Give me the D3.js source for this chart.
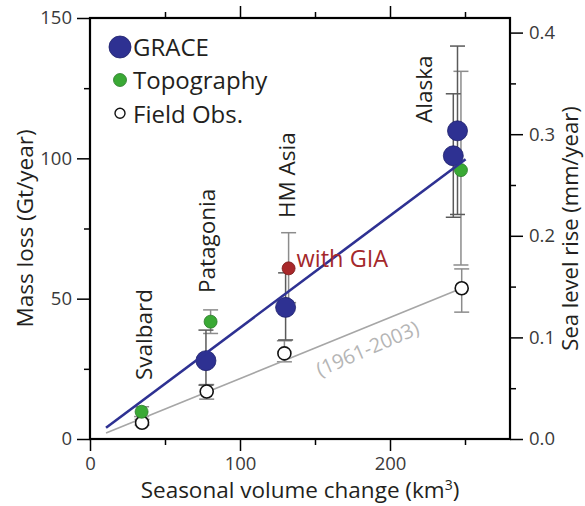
<!DOCTYPE html>
<html>
<head>
<meta charset="utf-8">
<script src="https://cdn.jsdelivr.net/npm/d3@7"></script>
<style>
  html, body { margin: 0; padding: 0; background: #fff; }
  svg text { font-family: "Open Sans", "Noto Sans", sans-serif; }
</style>
</head>
<body>
<svg id="chart" width="585" height="506"></svg>
<script>
// ---------------- data ----------------
const regions = ["Svalbard", "Patagonia", "HM Asia", "Alaska"];

// GRACE estimates: volume (km3), mass loss (Gt/yr), error range
const graceX  = [77.3, 130.4, 242.2, 245.0];
const graceY  = [27.9, 46.9, 100.9, 109.8];
const graceLo = [19.2, 35.3, 79.0, 80.0];
const graceHi = [38.8, 59.2, 123.0, 140.0];

// Topography estimates
const topoX  = [34.4, 80.4, 247.3];
const topoY  = [9.7, 41.8, 95.8];
const topoLo = [8.0, 37.6, 62.0];
const topoHi = [11.5, 46.0, 131.0];

// Field observations (1961-2003)
const fieldX  = [34.7, 77.8, 129.6, 247.8];
const fieldY  = [5.8, 16.9, 30.5, 53.7];
const fieldLo = [5.0, 14.2, 27.5, 45.2];
const fieldHi = [7.0, 19.4, 35.0, 60.6];

// HM Asia GRACE with GIA correction
const giaX  = [132.4];
const giaY  = [60.8];
const giaLo = [48.6];
const giaHi = [73.5];

// Fit lines
const graceFitX = [10.7, 250.4];
const graceFitY = [4.0, 99.7];
const fieldFitX = [10.7, 247.8];
const fieldFitY = [2.1, 53.7];

// Axis ticks
const xMajorTicks = [0, 100, 200];
const xMinorTicks = [50, 150, 250];
const yMajorTicks = [0, 50, 100, 150];
const yMinorTicks = [25, 75, 125];
const y2MajorTicks = [0.0, 0.1, 0.2, 0.3, 0.4];
const y2MinorTicks = [0.05, 0.15, 0.25, 0.35];
const gtPerMm = 362;

// ---------------- drawing ----------------
const svg = d3.select("#chart");
const L = 90, R = 510, T = 18, B = 439;
const textCol = "#231f20";

const x = d3.scaleLinear().domain([0, 280]).range([L, R]);
const y = d3.scaleLinear().domain([0, 150]).range([B, T]);
const y2 = d3.scaleLinear().domain([0, 150 / gtPerMm]).range([B, T]);

function styleAxis(g) {
  g.select(".domain").remove();
  g.selectAll(".tick line").attr("stroke", "#000").attr("stroke-width", 1.5);
  g.selectAll(".tick text").attr("fill", "#3a3a3a").style("font-size", "18.5px")
    .style("font-family", "'Open Sans', sans-serif");
}

// bottom
svg.append("g").attr("transform", `translate(0,${B})`)
  .call(d3.axisBottom(x).tickValues(xMajorTicks).tickSize(12).tickPadding(6).tickFormat(d3.format("d")))
  .call(styleAxis);
svg.append("g").attr("transform", `translate(0,${B})`)
  .call(d3.axisBottom(x).tickValues(xMinorTicks).tickSize(6).tickFormat(""))
  .call(styleAxis);
// top
svg.append("g").attr("transform", `translate(0,${T})`)
  .call(d3.axisTop(x).tickValues([100, 200]).tickSize(12).tickFormat(""))
  .call(styleAxis);
svg.append("g").attr("transform", `translate(0,${T})`)
  .call(d3.axisTop(x).tickValues(xMinorTicks).tickSize(6).tickFormat(""))
  .call(styleAxis);
// left
svg.append("g").attr("transform", `translate(${L},0)`)
  .call(d3.axisLeft(y).tickValues(yMajorTicks).tickSize(13).tickPadding(5).tickFormat(d3.format("d")))
  .call(styleAxis);
svg.append("g").attr("transform", `translate(${L},0)`)
  .call(d3.axisLeft(y).tickValues(yMinorTicks).tickSize(6).tickFormat(""))
  .call(styleAxis);
// right
svg.append("g").attr("transform", `translate(${R},0)`)
  .call(d3.axisRight(y2).tickValues(y2MajorTicks).tickSize(13).tickPadding(6).tickFormat(d3.format(".1f")))
  .call(styleAxis);
svg.append("g").attr("transform", `translate(${R},0)`)
  .call(d3.axisRight(y2).tickValues(y2MinorTicks).tickSize(6).tickFormat(""))
  .call(styleAxis);

// frame
svg.append("rect").attr("x", L).attr("y", T).attr("width", R - L).attr("height", B - T)
  .attr("fill", "none").attr("stroke", "#000").attr("stroke-width", 2.2);

// axis titles
const bt = svg.append("text").attr("x", (L + R) / 2).attr("y", 498).attr("text-anchor", "middle")
  .attr("fill", textCol).style("font-size", "22.5px");
bt.append("tspan").text("Seasonal volume change (km");
bt.append("tspan").attr("dy", -8).style("font-size", "14px").text("3");
bt.append("tspan").attr("dy", 8).text(")");

svg.append("text").attr("transform", `translate(33,${(T + B) / 2}) rotate(-90)`)
  .attr("text-anchor", "middle").attr("fill", textCol).style("font-size", "22.5px")
  .text("Mass loss (Gt/year)");
svg.append("text").attr("transform", `translate(578,${(T + B) / 2}) rotate(-90)`)
  .attr("text-anchor", "middle").attr("fill", textCol).style("font-size", "22px")
  .text("Sea level rise (mm/year)");

// error bars
function errorBars(xs, ys, lo, hi, color, width) {
  const g = svg.append("g").attr("stroke", color).attr("stroke-width", width);
  xs.forEach((xv, i) => {
    g.append("line").attr("x1", x(xv)).attr("x2", x(xv)).attr("y1", y(lo[i])).attr("y2", y(hi[i]));
    [lo[i], hi[i]].forEach(v => {
      g.append("line").attr("x1", x(xv) - 7.5).attr("x2", x(xv) + 7.5).attr("y1", y(v)).attr("y2", y(v));
    });
  });
}
errorBars(fieldX, fieldY, fieldLo, fieldHi, "#8c8c8c", 1.5);
errorBars(topoX, topoY, topoLo, topoHi, "#8c8c8c", 1.5);
errorBars(giaX, giaY, giaLo, giaHi, "#8c8c8c", 1.5);
errorBars(graceX, graceY, graceLo, graceHi, "#5a5a5a", 1.5);

// fit lines
const line = d3.line().x(d => x(d[0])).y(d => y(d[1]));
svg.append("path").datum(fieldFitX.map((v, i) => [v, fieldFitY[i]]))
  .attr("d", line).attr("fill", "none").attr("stroke", "#a6a6a6").attr("stroke-width", 1.6);

// points
function points(xs, ys, r, fill, stroke, sw) {
  svg.append("g").selectAll("circle").data(xs.map((v, i) => [v, ys[i]])).join("circle")
    .attr("cx", d => x(d[0])).attr("cy", d => y(d[1])).attr("r", r)
    .attr("fill", fill).attr("stroke", stroke).attr("stroke-width", sw);
}
points(fieldX, fieldY, 6.5, "#fff", "#111", 1.6);
points(topoX, topoY, 6.5, "#3aa935", "#2a7a2a", 0.8);
points(giaX, giaY, 6.5, "#a8282a", "#7a1c1c", 0.8);
points(graceX, graceY, 10, "#2e3192", "#1d1f6a", 0.8);

svg.append("path").datum(graceFitX.map((v, i) => [v, graceFitY[i]]))
  .attr("d", line).attr("fill", "none").attr("stroke", "#2e3192").attr("stroke-width", 2.6);

// region labels (rotated)
const labelOffsetX = [10, 8.5, 9.5, -21];
const labelStartY = [21.0, 52.0, 78.7, 112.6];
const labelXRef = [fieldX[0], fieldX[1], graceX[1], graceX[2]];
regions.forEach((name, i) => {
  svg.append("text")
    .attr("transform", `translate(${x(labelXRef[i]) + labelOffsetX[i]},${y(labelStartY[i])}) rotate(-90)`)
    .attr("fill", textCol).style("font-size", "22.5px").text(name);
});

// GIA label
svg.append("text").attr("x", x(giaX[0]) + 8).attr("y", y(giaY[0]) - 1)
  .attr("fill", "#a4282b").style("font-size", "23.5px").text("with GIA");

// field obs period label
svg.append("text").attr("transform", `translate(${x(153.3)},${y(22.1)}) rotate(-23.5)`)
  .attr("fill", "#b5b5b5").style("font-size", "20px").text("(1961-2003)");

// legend
const legend = [
  {name: "GRACE", r: 11, fill: "#2e3192", stroke: "#1d1f6a", sw: 0.8, cy: 47, ty: 56},
  {name: "Topography", r: 6.5, fill: "#3aa935", stroke: "#2a7a2a", sw: 0.8, cy: 80, ty: 89.3},
  {name: "Field Obs.", r: 5, fill: "#fff", stroke: "#111", sw: 1.4, cy: 113.3, ty: 122.7}
];
legend.forEach(d => {
  svg.append("circle").attr("cx", 120).attr("cy", d.cy).attr("r", d.r)
    .attr("fill", d.fill).attr("stroke", d.stroke).attr("stroke-width", d.sw);
  svg.append("text").attr("x", 133).attr("y", d.ty).attr("fill", textCol)
    .style("font-size", "24px").text(d.name);
});
</script>
</body>
</html>
